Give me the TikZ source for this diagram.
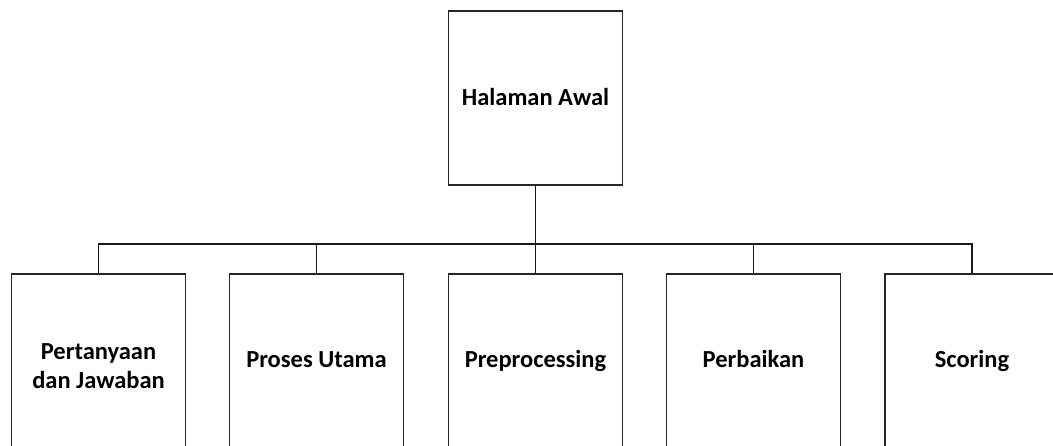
\documentclass[tikz,border=0pt]{standalone}
\usepackage{fontspec}
\setmainfont{Carlito}
\begin{document}
\begin{tikzpicture}[x=1pt,y=-1pt,
  box/.style={draw=black!85, line width=1.4pt, minimum width=174pt, inner sep=0pt,
              align=center, text height=19pt, text depth=4pt,
              font=\bfseries\fontsize{24.5}{29}\selectfont},
  child/.style={box, minimum height=175pt, text height=15pt},
  link/.style={draw=black!90, line width=1.3pt}]
  \useasboundingbox (0,0) rectangle (1053,445);
  \clip (0,0) rectangle (1053,445);

  % root
  \node[box, minimum height=174pt] (root) at (535.5,98) {Halaman Awal};

  % children (their lower edges run past the page)
  \node[child, text height=57pt] (c1) at (98.5,361.5) {Pertanyaan\\dan Jawaban};
  \node[child] (c2) at (316.5,361.5) {Proses Utama};
  \node[child] (c3) at (535.5,361.5) {Preprocessing};
  \node[child] (c4) at (753.5,361.5) {Perbaikan};
  \node[child] (c5) at (972,361.5) {Scoring};

  % bus
  \coordinate (bus) at (535.5,244);
  \draw[link] (root.south) -- (c3.north);
  \draw[link] (c1.north) |- (bus) -| (c5.north);
  \draw[link] (c2.north) -- (c2.north |- bus);
  \draw[link] (c4.north) -- (c4.north |- bus);
\end{tikzpicture}
\end{document}
